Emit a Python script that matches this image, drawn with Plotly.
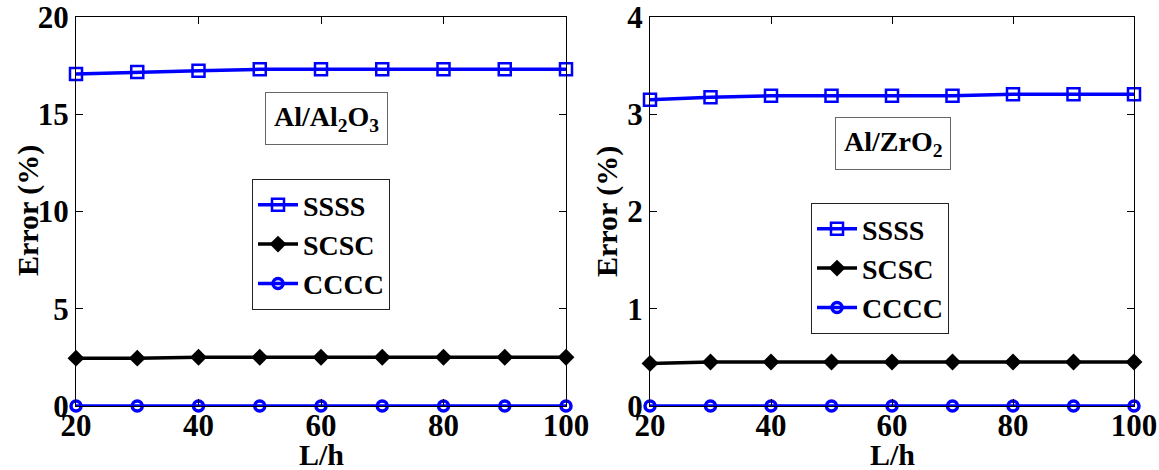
import plotly.graph_objects as go

# L/h ratios
lh = [20, 30, 40, 50, 60, 70, 80, 90, 100]

# Error (%) for Al/Al2O3
al2o3_ssss = [17.07, 17.17, 17.24, 17.31, 17.31, 17.31, 17.31, 17.31, 17.31]
al2o3_scsc = [2.46, 2.46, 2.51, 2.51, 2.51, 2.51, 2.51, 2.51, 2.51]
al2o3_cccc = [0, 0, 0, 0, 0, 0, 0, 0, 0]

# Error (%) for Al/ZrO2
zro2_ssss = [3.15, 3.175, 3.19, 3.19, 3.19, 3.19, 3.205, 3.205, 3.205]
zro2_scsc = [0.438, 0.452, 0.452, 0.452, 0.452, 0.452, 0.452, 0.452, 0.452]
zro2_cccc = [0, 0, 0, 0, 0, 0, 0, 0, 0]

series_names = ["SSSS", "SCSC", "CCCC"]
x_ticks = [20, 40, 60, 80, 100]
left_yticks = [0, 5, 10, 15, 20]
right_yticks = [0, 1, 2, 3, 4]

FONT = "Liberation Serif"
BLUE = "#0000ff"

styles = [
    dict(color=BLUE, marker=dict(symbol="square-open", size=12, line=dict(width=2.5, color=BLUE))),
    dict(color="black", marker=dict(symbol="diamond", size=13, color="black")),
    dict(color=BLUE, marker=dict(symbol="circle-open", size=10, line=dict(width=3.5, color=BLUE))),
]

fig = go.Figure()

panels = [
    ("x", "y", "legend", [al2o3_ssss, al2o3_scsc, al2o3_cccc]),
    ("x2", "y2", "legend2", [zro2_ssss, zro2_scsc, zro2_cccc]),
]
for xa, ya, leg, data in panels:
    for name, vals, st in zip(series_names, data, styles):
        fig.add_trace(go.Scatter(
            x=lh, y=vals, name=name, mode="lines+markers",
            line=dict(color=st["color"], width=3.5),
            marker=st["marker"],
            xaxis=xa, yaxis=ya, legend=leg, cliponaxis=False,
        ))

W, H = 1159, 470
def px_x(p):
    return p / W
def px_y(p):
    return (H - p) / H

axis_common = dict(
    showline=True, linecolor="black", linewidth=1, mirror="ticks",
    ticks="inside", ticklen=7, tickcolor="black", showgrid=False, zeroline=False,
    automargin=False, ticklabeloverflow="allow",
    tickfont=dict(family=FONT, size=31, color="black", weight="bold"),
)

legend_common = dict(
    xanchor="left", yanchor="top", bordercolor="#222", borderwidth=1,
    bgcolor="white", font=dict(family=FONT, size=28, color="black", weight="bold"),
    itemwidth=40, tracegroupgap=0,
)

fig.update_layout(
    width=W, height=H,
    margin=dict(l=0, r=0, t=0, b=0),
    paper_bgcolor="white", plot_bgcolor="white",
    font=dict(family=FONT, color="black"),
    xaxis=dict(domain=[px_x(76), px_x(566)], range=[20, 100], tickvals=x_ticks,
               anchor="y", ticklabelstandoff=-8, **axis_common),
    yaxis=dict(domain=[px_y(406), px_y(17)], range=[0, 20], tickvals=left_yticks,
               anchor="x", **axis_common),
    xaxis2=dict(domain=[px_x(650), px_x(1134)], range=[20, 100], tickvals=x_ticks,
                anchor="y2", ticklabelstandoff=-8, **axis_common),
    yaxis2=dict(domain=[px_y(406), px_y(17)], range=[0, 4], tickvals=right_yticks,
                anchor="x2", **axis_common),
    legend=dict(x=px_x(252), y=px_y(179), **legend_common),
    legend2=dict(x=px_x(811), y=px_y(203), **legend_common),
    showlegend=True,
)

title_font = dict(family=FONT, size=30, color="black", weight="bold")
label_font = dict(family=FONT, size=28, color="black", weight="bold")

annotations = [
    dict(text="Error (%)", x=px_x(28), y=px_y(211), textangle=-90),
    dict(text="Error (%)", x=px_x(607), y=px_y(211), textangle=-90),
    dict(text="L/h", x=px_x(321), y=px_y(454)),
    dict(text="L/h", x=px_x(892), y=px_y(454)),
]
for a in annotations:
    fig.add_annotation(xref="paper", yref="paper", showarrow=False,
                       xanchor="center", yanchor="middle", font=title_font, **a)

fig.add_annotation(text="Al/Al<sub>2</sub>O<sub>3</sub>", xref="paper", yref="paper",
                   x=px_x(327), y=px_y(119), xanchor="center", yanchor="middle",
                   showarrow=False, font=label_font, bordercolor="#666",
                   borderwidth=1, borderpad=8, bgcolor="white")
fig.add_annotation(text="Al/ZrO<sub>2</sub>", xref="paper", yref="paper",
                   x=px_x(893), y=px_y(143), xanchor="center", yanchor="middle",
                   showarrow=False, font=label_font, bordercolor="#666",
                   borderwidth=1, borderpad=8, bgcolor="white")

fig.write_html("out.html")
